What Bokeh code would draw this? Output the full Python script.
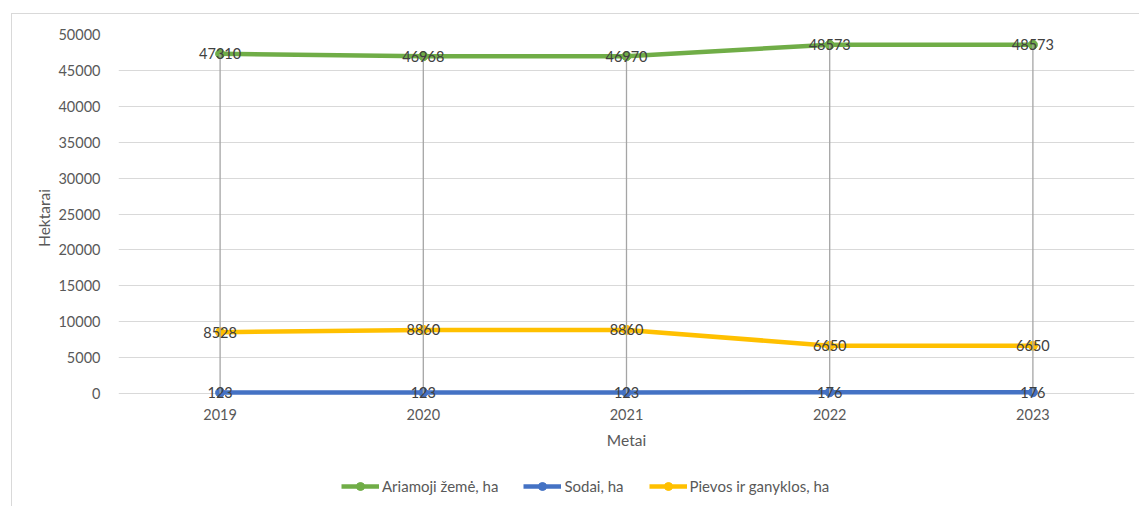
from bokeh.plotting import figure
from bokeh.layouts import column
from bokeh.models import ColumnDataSource, Legend, LegendItem, SingleIntervalTicker, FactorRange
from bokeh.embed import file_html
from bokeh.resources import INLINE
from bokeh.core.properties import value

years = ["2019", "2020", "2021", "2022", "2023"]
ariamoji = [47310, 46968, 46970, 48573, 48573]
sodai = [123, 123, 123, 176, 176]
pievos = [8528, 8860, 8860, 6650, 6650]

series = [
    ("Ariamoji žemė, ha", ariamoji, "#70AD47"),
    ("Sodai, ha", sodai, "#4472C4"),
    ("Pievos ir ganyklos, ha", pievos, "#FFC000"),
]

FONT = "Lato"
FS = "14.5px"

# y range reaches a little below 0 so the labels at the baseline are not clipped
p = figure(x_range=FactorRange(*years), y_range=(-1114, 50000),
           width=1128, height=440, output_backend="svg", toolbar_location=None,
           min_border_left=106, min_border_top=20, min_border_right=6, min_border_bottom=53)
p.outline_line_color = None
p.background_fill_color = "white"
p.border_fill_color = "white"

p.yaxis.ticker = SingleIntervalTicker(interval=5000)
p.ygrid.grid_line_color = "#D9D9D9"
p.ygrid.grid_line_width = 1
p.xgrid.grid_line_color = None
for ax in (p.xaxis[0], p.yaxis[0]):
    ax.axis_line_color = None
    ax.major_tick_line_color = None
    ax.minor_tick_line_color = None
    ax.major_label_text_font = FONT
    ax.major_label_text_font_size = FS
    ax.major_label_text_color = "#595959"
    ax.axis_label_text_font = FONT
    ax.axis_label_text_font_size = "15.5px"
    ax.axis_label_text_font_style = "normal"
    ax.axis_label_text_color = "#595959"
p.yaxis.axis_label = "Hektarai"
p.xaxis.axis_label = "Metai"
p.yaxis.major_label_standoff = 12
p.yaxis.axis_label_standoff = 2
p.xaxis.major_label_standoff = 1
p.xaxis.axis_label_standoff = 8

for name, vals, color in series:
    src = ColumnDataSource(dict(x=years, y=vals))
    p.line("x", "y", source=src, line_color=color, line_width=4.5)
    p.scatter("x", "y", source=src, size=9, fill_color=color, line_color=color)

# drop lines from top series to axis
p.segment(x0=years, y0=[0] * len(years), x1=years, y1=ariamoji, line_color="#A5A5A5", line_width=1.3)

for name, vals, color in series:
    src = ColumnDataSource(dict(x=years, y=vals, lab=[str(v) for v in vals]))
    p.text("x", "y", text="lab", source=src, text_align="center", text_baseline="middle",
           text_font=value(FONT), text_font_size=FS, text_color="#404040")

# legend figure (its renderers sit outside the visible range; only the legend shows)
lf = figure(width=1128, height=53, output_backend="svg", toolbar_location=None,
            min_border=0, x_range=(0, 1), y_range=(0, 1))
lf.axis.visible = False
lf.grid.visible = False
lf.outline_line_color = None
lf.background_fill_color = "white"
lf.border_fill_color = "white"
items = []
for name, vals, color in series:
    dummy = ColumnDataSource(dict(x=[-10, -9], y=[-10, -10]))
    r1 = lf.line("x", "y", source=dummy, line_color=color, line_width=4.5)
    r2 = lf.scatter("x", "y", source=dummy, size=9, fill_color=color, line_color=color)
    items.append(LegendItem(label=name, renderers=[r1, r2]))
legend = Legend(items=items, orientation="horizontal", location=(223, 11),
                label_text_font=FONT, label_text_font_size="15px", label_text_color="#595959",
                border_line_color=None, background_fill_alpha=0, padding=0, margin=0,
                spacing=25, glyph_width=38, glyph_height=20, label_standoff=3)
lf.add_layout(legend, "center")

layout = column(p, lf, spacing=0)
layout.margin = (13, 0, 0, 11)
layout.styles = {"border-top": "1px solid #d9d9d9", "border-left": "1px solid #d9d9d9"}

open("out.html", "w").write(file_html(layout, INLINE))
